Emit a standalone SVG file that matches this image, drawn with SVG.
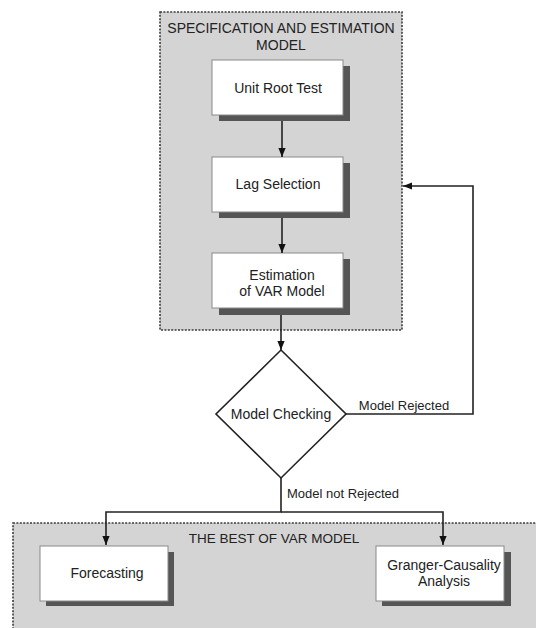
<svg xmlns="http://www.w3.org/2000/svg" width="536" height="628" viewBox="0 0 536 628">
<defs>
<style>
.cont{fill:#d5d4d5;stroke:#3a3a3a;stroke-width:1.6;stroke-dasharray:2 1.4}
.box{fill:#fff;stroke:#8a8a8a;stroke-width:1}
.sh{fill:#555}
.t{font-family:"Liberation Sans",Arial,sans-serif;font-size:14px;fill:#222;text-anchor:middle}
.s{font-size:13px}
.ln{fill:none;stroke:#222;stroke-width:1.6}
</style>
<marker id="ah2" viewBox="0 0 10 10" refX="10" refY="5" markerWidth="9" markerHeight="9" orient="auto" markerUnits="userSpaceOnUse">
<path d="M0,1 L10,5 L0,9 z" fill="#111"/>
</marker>
</defs>
<rect width="536" height="628" fill="#fff"/>
<g id="container-spec">
<rect class="cont" x="160" y="12" width="242" height="318"/>
<text class="t" x="281" y="33">SPECIFICATION AND ESTIMATION</text>
<text class="t" x="281" y="50">MODEL</text>
</g>
<g id="container-best">
<rect class="cont" x="13" y="523" width="540" height="120"/>
<text class="t" x="274" y="543" style="font-size:13.5px">THE BEST OF VAR MODEL</text>
</g>
<g id="unit-root">
<rect class="sh" x="219" y="66" width="131" height="55"/>
<rect class="box" x="212" y="60" width="131" height="55"/>
<text class="t" x="278" y="93">Unit Root Test</text>
</g>
<g id="lag-selection">
<rect class="sh" x="219" y="163" width="131" height="55"/>
<rect class="box" x="212" y="157" width="131" height="55"/>
<text class="t" x="278" y="189">Lag Selection</text>
</g>
<g id="estimation">
<rect class="sh" x="219" y="259" width="131" height="56"/>
<rect class="box" x="212" y="253" width="131" height="55"/>
<text class="t" x="282" y="280">Estimation</text>
<text class="t" x="282" y="296">of VAR Model</text>
</g>
<g id="model-checking">
<polygon points="281,350 346,414 281,478 216,414" fill="#fff" stroke="#222" stroke-width="1.6"/>
<text class="t" x="281" y="419">Model Checking</text>
</g>
<g id="forecasting">
<rect class="sh" x="46" y="552" width="128" height="54"/>
<rect class="box" x="40" y="546" width="128" height="55"/>
<text class="t" x="107" y="578">Forecasting</text>
</g>
<g id="granger">
<rect class="sh" x="382" y="552" width="129" height="54"/>
<rect class="box" x="376" y="546" width="128" height="55"/>
<text class="t" x="444" y="570">Granger-Causality</text>
<text class="t" x="444" y="586">Analysis</text>
</g>
<g id="connectors">
<line class="ln" x1="282" y1="121" x2="282" y2="157" marker-end="url(#ah2)"/>
<line class="ln" x1="282" y1="218" x2="282" y2="253" marker-end="url(#ah2)"/>
<line class="ln" x1="281" y1="315" x2="281" y2="350" marker-end="url(#ah2)"/>
<polyline class="ln" points="346,414 473,414 473,186 403,186" marker-end="url(#ah2)"/>
<polyline class="ln" points="281,478 281,512 106,512 106,545" marker-end="url(#ah2)"/>
<polyline class="ln" points="281,512 443,512 443,545" marker-end="url(#ah2)"/>
<text class="t s" x="404" y="410">Model Rejected</text>
<text class="t s" x="343" y="498">Model not Rejected</text>
</g>
</svg>
